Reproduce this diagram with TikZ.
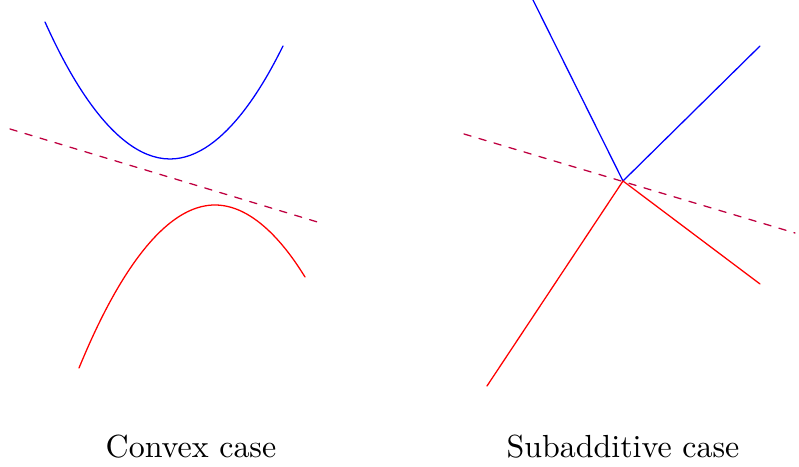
\documentclass[tikz,border=0pt]{standalone}
\usepackage{amsmath,amssymb}
\usepackage{tikz}
\usepackage{xcolor}

\begin{document}
\begin{tikzpicture}[x=0.011cm,y=-0.011cm,line cap=round]
\useasboundingbox (0,0) rectangle (799,467);
% convex case
\draw[blue] (45,22) parabola bend (170,159) (283,46);
\draw[red] (79,368) parabola bend (215,205) (305,277);
\draw[purple,dash pattern=on 2.3pt off 2.6pt] (10,129) -- (324,224);
\node (convex) at (191,447) {Convex case};
% subadditive case
\coordinate (o) at (623,181);
\coordinate (bl) at (533,0);
\coordinate (br) at (760,46);
\coordinate (rl) at (487,386);
\coordinate (rr) at (760,284);
\draw[blue] (bl) -- (o) -- (br);
\draw[red] (rl) -- (o) -- (rr);
\draw[purple,dash pattern=on 2.3pt off 2.6pt] (464,134) -- (795,233);
\node (subadd) at (623,447) {Subadditive case};
\end{tikzpicture}
\end{document}
